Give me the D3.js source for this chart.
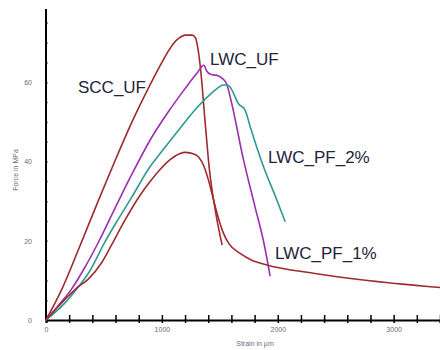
<!DOCTYPE html>
<html lang="en">
<head>
    <meta charset="UTF-8">
    <title>Force vs Strain</title>
    <script src="https://cdnjs.cloudflare.com/ajax/libs/d3/7.8.5/d3.min.js"></script>
    <style>
        body { margin: 0; background: #fff; }
        .tick text { font: 7px "Liberation Sans", Arial, sans-serif; fill: #6b6b78; }
        .axis-title { font: 7px "Liberation Sans", Arial, sans-serif; fill: #6b6b78; }
        .curve-label { font: 17px "Liberation Sans", Arial, sans-serif; fill: #23233a; }
    </style>
</head>
<body>
<script>
    // series names
    var seriesNames = ["SCC_UF", "LWC_UF", "LWC_PF_2%", "LWC_PF_1%"];

    // strain (um) and force (MPa)
    var sccStrain = [0, 140, 290, 450, 600, 750, 900, 1000, 1050, 1100, 1150, 1200, 1260, 1290, 1305, 1335, 1373, 1410, 1465, 1520];
    var sccForce  = [0, 8, 18.5, 30, 40.5, 50.5, 59.5, 65, 67.6, 69.8, 71.2, 71.9, 71.9, 71.2, 69.5, 63, 50, 38, 27, 18.9];

    var lwcUfStrain = [0, 110, 220, 330, 450, 600, 750, 900, 1050, 1200, 1300, 1362, 1388, 1420, 1490, 1520, 1560, 1600, 1700, 1800, 1880, 1934];
    var lwcUfForce  = [0, 3.8, 7.8, 13, 19.5, 28.5, 37.3, 45.5, 52.3, 58.4, 62.2, 64.3, 62.8, 62, 61.6, 61, 59.5, 55, 41, 29, 19.5, 11.1];

    var pf2Strain = [0, 160, 280, 370, 510, 610, 730, 900, 1000, 1100, 1200, 1300, 1400, 1470, 1530, 1570, 1595, 1661, 1718, 1762, 1877, 1992, 2064];
    var pf2Force  = [0, 4.2, 8.4, 12, 19.8, 24.8, 30.5, 38.8, 42.6, 46.3, 50, 53.5, 56.5, 58.3, 59.3, 59.3, 58.5, 54.6, 53, 48.8, 38.7, 30.3, 24.8];

    var pf1Strain = [0, 106, 279, 365, 481, 567, 668, 812, 900, 984, 1071, 1157, 1200, 1287, 1320, 1360, 1400, 1442, 1485, 1530, 1580, 1675, 1776, 1906, 2306, 2737, 3402];
    var pf1Force  = [0, 3.4, 8.4, 10.3, 14.5, 19, 24.5, 31.5, 35, 38, 40.5, 42, 42.3, 41.8, 41, 39, 35.5, 30.8, 26, 22, 19.2, 16.8, 15.1, 13.9, 11.8, 10.1, 8.2];

    // ticks
    var xTicks = d3.range(0, 3401, 200);
    var xLabels = [0, 1000, 2000, 3000];
    var yTicks = d3.range(0, 76, 5);
    var yLabels = [0, 20, 40, 60];

    var width = 440, height = 350;
    var margin = {top: 9, right: 0, bottom: 30, left: 46};

    var colors = ["#9e2b2e", "#9b2fae", "#2e9a92", "#9e2b2e"];
    // where the curve names sit (pixels, left / baseline)
    var labelPos = [[78, 93], [210, 65], [268, 163], [275, 259]];

    var x = d3.scaleLinear().domain([0, 3400]).range([margin.left, width - margin.right]);
    var y = d3.scaleLinear().domain([0, 78.5]).range([height - margin.bottom, margin.top]);

    var svg = d3.select("body").append("svg")
        .attr("width", width)
        .attr("height", height);

    var series = [
        d3.zip(sccStrain, sccForce),
        d3.zip(lwcUfStrain, lwcUfForce),
        d3.zip(pf2Strain, pf2Force),
        d3.zip(pf1Strain, pf1Force)
    ];

    var line = d3.line()
        .x(function(d) { return x(d[0]); })
        .y(function(d) { return y(d[1]); })
        .curve(d3.curveMonotoneX);

    // x axis
    var xAxis = svg.append("g")
        .attr("transform", "translate(0," + y(0) + ")")
        .call(d3.axisBottom(x).tickValues(xTicks).tickSize(3)
            .tickFormat(function(d) { return xLabels.indexOf(d) >= 0 ? d : ""; }));
    xAxis.select(".domain").attr("stroke", "#000").attr("stroke-width", 2);
    xAxis.selectAll(".tick line").attr("y1", -5).attr("stroke-width", 1.5);
    xAxis.selectAll(".tick text").attr("dy", "0.9em");

    // y axis
    var yAxis = svg.append("g")
        .attr("transform", "translate(" + x(0) + ",0)")
        .call(d3.axisLeft(y).tickValues(yTicks).tickSize(5)
            .tickFormat(function(d) { return yLabels.indexOf(d) >= 0 ? d : ""; }));
    yAxis.select(".domain").attr("stroke", "#000").attr("stroke-width", 2)
        .attr("d", "M0," + y(78.5) + "V" + y(0));
    yAxis.selectAll(".tick line").attr("x2", 1.5).attr("stroke-width", 1.5);
    yAxis.selectAll(".tick text").attr("x", -14);

    // axis titles
    svg.append("text")
        .attr("class", "axis-title")
        .attr("x", 255).attr("y", 346)
        .attr("text-anchor", "middle")
        .text("Strain in µm");

    svg.append("text")
        .attr("class", "axis-title")
        .attr("transform", "translate(18,170) rotate(-90)")
        .attr("text-anchor", "middle")
        .text("Force in MPa");

    // curves
    svg.selectAll(".curve")
        .data(series)
        .enter().append("path")
        .attr("class", "curve")
        .attr("d", line)
        .attr("fill", "none")
        .attr("stroke", function(d, i) { return colors[i]; })
        .attr("stroke-width", 1.6);

    // curve names
    svg.selectAll(".curve-label")
        .data(seriesNames)
        .enter().append("text")
        .attr("class", "curve-label")
        .attr("x", function(d, i) { return labelPos[i][0]; })
        .attr("y", function(d, i) { return labelPos[i][1]; })
        .text(function(d) { return d; });
</script>
</body>
</html>
